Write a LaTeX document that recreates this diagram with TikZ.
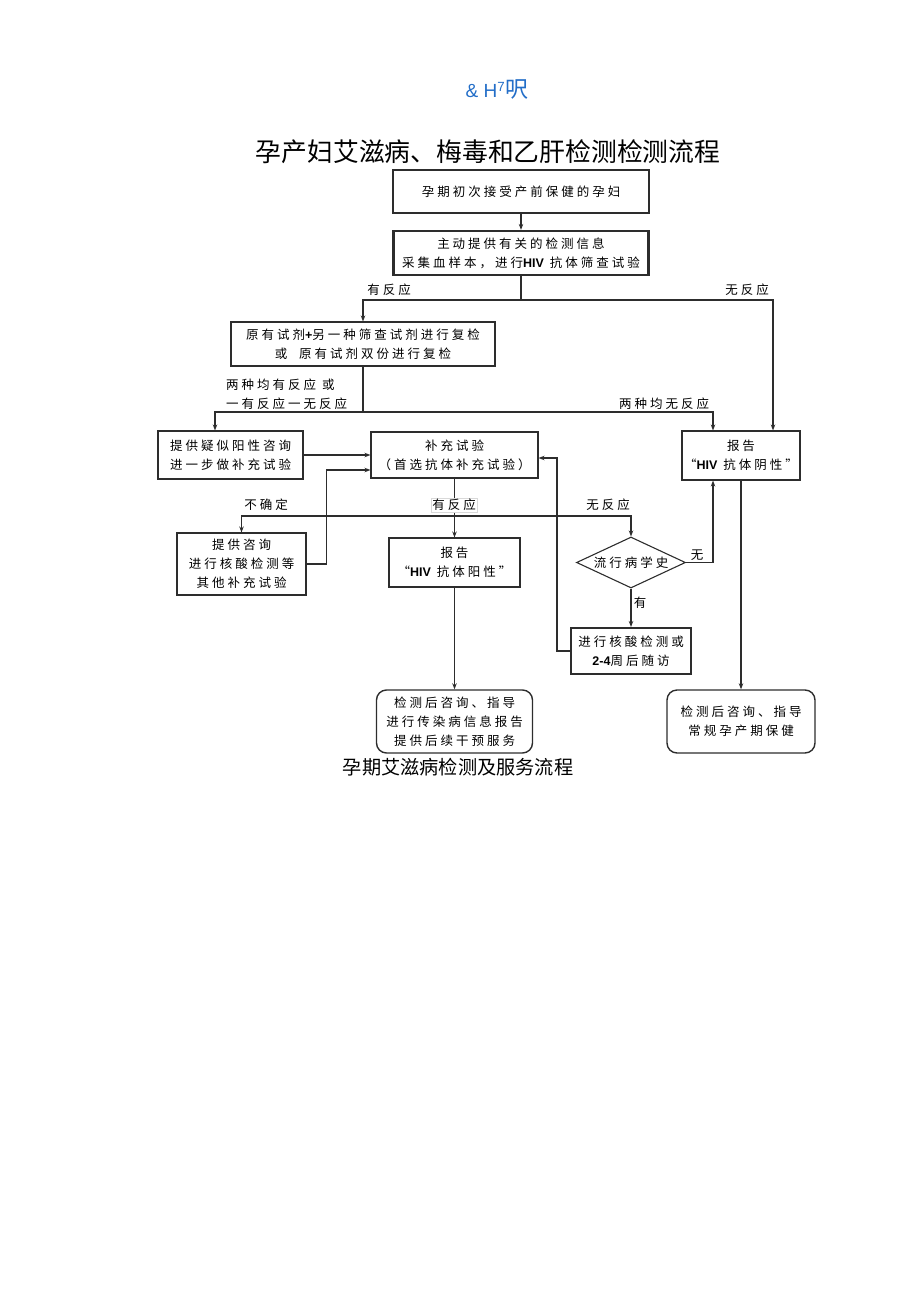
\documentclass[tikz,border=0pt]{standalone}
\usepackage{fontspec}
\setmainfont{Liberation Sans}
\newfontfamily\cjk{Noto Sans CJK SC}[LetterSpace=24]
\newfontfamily\cjktitle{Noto Sans CJK SC}
\newfontfamily\lat{Liberation Sans}
\newcommand{\eng}[1]{{\lat\bfseries #1}}
\usetikzlibrary{arrows.meta,shapes.geometric}
\definecolor{linegray}{RGB}{45,45,45}
\definecolor{headblue}{RGB}{35,110,200}
\begin{document}
\begin{tikzpicture}[x=1pt,y=-1pt,
    box/.style={draw=linegray, line width=1.1pt, align=center, inner sep=0pt,
      font=\cjk\fontsize{12.5}{19}\selectfont},
    thickbox/.style={box, line width=2.2pt},
    endbox/.style={box, rounded corners=10pt, line width=1.4pt},
    lbl/.style={inner sep=1pt, font=\cjk\fontsize{12.5}{19}\selectfont},
    arr/.style={-{Stealth[length=6pt,width=4.5pt]}}]
  \useasboundingbox (0,0) rectangle (920,1303);
  \node (head) at (497,90) {\color{headblue}\fontsize{19}{19}\selectfont \& H\textsuperscript{7}{\cjktitle\fontsize{23}{23}\selectfont 呎}};
  \node (title) at (488,152) {\cjktitle\fontsize{25.8}{25.8}\selectfont 孕产妇艾滋病、梅毒和乙肝检测检测流程};
  \node[box, line width=1.5pt, minimum width=256pt, minimum height=43pt] (b1) at (521,191.5) {孕期初次接受产前保健的孕妇};
  \node[thickbox, minimum width=255pt, minimum height=44pt] (b2) at (521,253) {主动提供有关的检测信息\\采集血样本，进行\eng{HIV} 抗体筛查试验};
  \node[box, minimum width=264pt, minimum height=44pt] (b3) at (363,344) {原有试剂\eng{+}另一种筛查试剂进行复检\\或\ \ 原有试剂双份进行复检};
  \node[box, minimum width=145pt, minimum height=48pt] (b4) at (230.5,455) {提供疑似阳性咨询\\进一步做补充试验};
  \node[box, minimum width=167pt, minimum height=46pt] (b5) at (454.5,455) {补充试验\\（首选抗体补充试验）};
  \node[box, minimum width=118pt, minimum height=49pt] (b6) at (741,455.5) {报告\\“\eng{HIV} 抗体阴性”};
  \node[box, minimum width=129pt, minimum height=62pt] (b7) at (241.5,564) {提供咨询\\进行核酸检测等\\其他补充试验};
  \node[box, minimum width=131pt, minimum height=49pt] (b8) at (454.5,562.5) {报告\\“\eng{HIV} 抗体阳性”};
  \node[box, diamond, aspect=2.1, minimum width=109pt, minimum height=51pt] (dia) at (631,562.5) {流行病学史};
  \node[thickbox, line width=2pt, minimum width=120pt, minimum height=46pt] (b9) at (631,651) {进行核酸检测或\\\eng{2-4}周后随访};
  \node[endbox, minimum width=156pt, minimum height=63pt] (b10) at (454.5,721.5) {检测后咨询、指导\\进行传染病信息报告\\提供后续干预服务};
  \node[endbox, minimum width=148pt, minimum height=63pt] (b11) at (741,721.5) {检测后咨询、指导\\常规孕产期保健};
  \node (caption) at (458,767) {\cjktitle\fontsize{19.2}{19.2}\selectfont 孕期艾滋病检测及服务流程};
  \coordinate (j1) at (521,300);
  \coordinate (j2) at (363,412);
  \coordinate (j3) at (454.5,516);
  \begin{scope}[draw=linegray, line width=1.1pt]
    \draw[arr] (b1) -- (b2);
    \draw (b2.south) -- (j1);
    \draw[arr] (j1) -| (b3.north);
    \draw[arr] (j1) -| ([xshift=32pt]b6.north);
    \draw (b3.south) -- (j2);
    \draw[arr] (j2) -| ([xshift=-15.5pt]b4.north);
    \draw[arr] (j2) -| ([xshift=-28pt]b6.north);
    \draw[arr] (b4.east) -- (b4.east -| b5.west);
    \draw[arr] (b7.east) -- ++(20,0) |- ([yshift=-15pt]b5.west);
    \draw[arr] (b5.south) -- (b8.north);
    \draw[arr] (j3) -| (b7.north);
    \draw[arr] (j3) -| (dia.north);
    \draw[arr] (dia.east) -| ([xshift=-28pt]b6.south);
    \draw[arr] (dia.south) -- (b9.north);
    \draw[arr] (b9.west) -- ++(-13,0) |- ([yshift=-3pt]b5.east);
    \draw[arr] (b8.south) -- (b10.north);
    \draw[arr] (b6.south) -- (b11.north);
  \end{scope}
  \node[lbl] (l1) at (389,290) {有反应};
  \node[lbl] (l2) at (747,290) {无反应};
  \node[lbl, anchor=west] (l3) at (225,385) {两种均有反应\ 或};
  \node[lbl, anchor=west] (l4) at (225,404) {一有反应一无反应};
  \node[lbl] (l5) at (664,404) {两种均无反应};
  \node[lbl] (l6) at (266,505) {不确定};
  \node[lbl, fill=white, draw=black!15, line width=0.4pt] (l7) at (454,505) {有反应};
  \node[lbl] (l8) at (608,505) {无反应};
  \node[lbl] (l9) at (697,555) {无};
  \node[lbl] (l10) at (640,603) {有};
\end{tikzpicture}
\end{document}
